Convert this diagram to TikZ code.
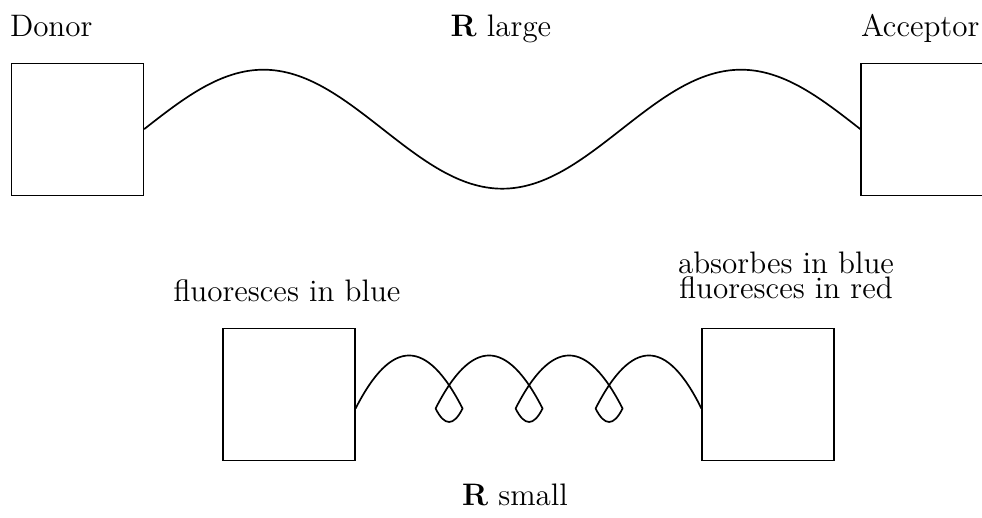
\documentclass[tikz,border=0pt]{standalone}
\usetikzlibrary{calc}
\tikzset{
  box/.style={draw, line width=0.45pt, rectangle, inner sep=0pt, minimum size=50.95pt},
  lbl/.style={inner sep=0pt, outer sep=0pt, font=\fontsize{12}{14.5}\selectfont},
  tight/.style={inner sep=0pt, outer sep=0pt, align=center,
    font={\fontsize{12}{9.6}\selectfont\lineskiplimit=-20pt}},
  curve/.style={line width=0.65pt, line join=round}
}
\begin{document}
\begin{tikzpicture}[x=0.386pt, y=-0.386pt]
\clip (0,0) rectangle (982,518);
% boxes
\node[box] (donor) at (77.5,129.2) {};
\node[box] (acceptor) at (927,129.2) {};
\node[box] (lb) at (289,394.5) {};
\node[box] (rb) at (768,394.5) {};
% labels
\node[lbl, anchor=base west] (tdonor) at (10,37) {Donor};
\node[lbl, anchor=base west] (tacc) at (861,37) {Acceptor};
\node[lbl, anchor=base] (tlarge) at (501,37) {\textbf{R} large};
\node[lbl, anchor=base] (tblue) at (287,302) {fluoresces in blue};
\node[tight, anchor=south] (tred) at (786,299) {absorbes in blue\\fluoresces in red};
\node[lbl, anchor=base] (tsmall) at (515,506) {\textbf{R} small};
% top wave
\draw[curve] (donor.east)
  sin ($(donor.east)!1/6!(acceptor.west)+(0,-59.5)$)
  cos ($(donor.east)!2/6!(acceptor.west)$)
  sin ($(donor.east)!3/6!(acceptor.west)+(0,59.5)$)
  cos ($(donor.east)!4/6!(acceptor.west)$)
  sin ($(donor.east)!5/6!(acceptor.west)+(0,-59.5)$)
  cos (acceptor.west);
% bottom looped connector
\coordinate (s) at ($(lb.east)+(0,14)$);
\coordinate (e) at ($(rb.west)+(0,14)$);
\draw[curve] (s)
  .. controls ($(s)+(36,-70.7)$) and ($(s)+(71,-70.7)$) .. ($(s)+(107,0)$)
  .. controls ($(s)+(98,18)$) and ($(s)+(89,18)$) .. ($(s)+(80,0)$)
  .. controls ($(s)+(116,-70.7)$) and ($(s)+(151,-70.7)$) .. ($(s)+(187,0)$)
  .. controls ($(s)+(178,18)$) and ($(s)+(169,18)$) .. ($(s)+(160,0)$)
  .. controls ($(s)+(196,-70.7)$) and ($(s)+(231,-70.7)$) .. ($(s)+(267,0)$)
  .. controls ($(s)+(258,18)$) and ($(s)+(249,18)$) .. ($(s)+(240,0)$)
  .. controls ($(s)+(276,-70.7)$) and ($(s)+(311,-70.7)$) .. (e);
\end{tikzpicture}
\end{document}
